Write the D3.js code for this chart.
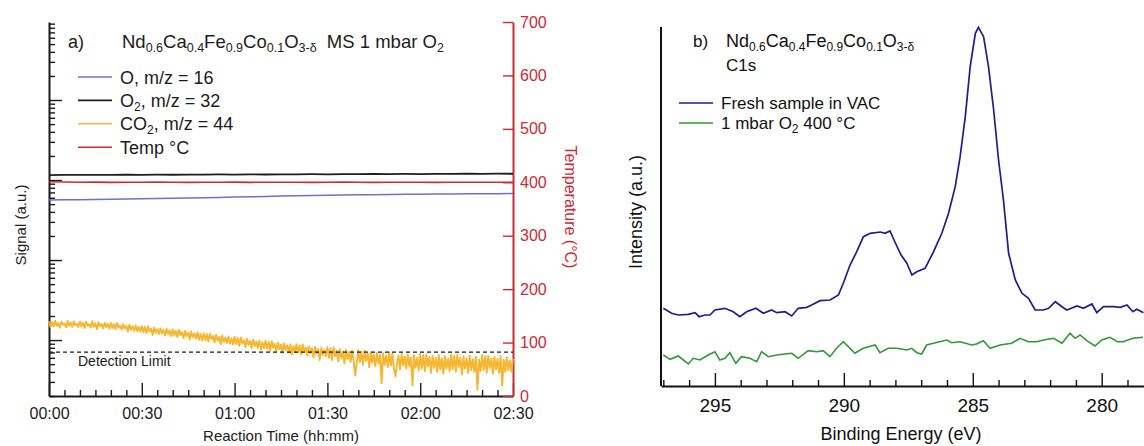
<!DOCTYPE html>
<html>
<head>
<meta charset="utf-8">
<script src="https://cdn.jsdelivr.net/npm/d3@7"></script>
<style>
  html, body { margin: 0; padding: 0; background: #fff; }
  svg { display: block; font-family: "Liberation Sans", Arial, sans-serif; }
</style>
</head>
<body>
<svg id="chart" width="1144" height="446"></svg>
<script>
// ---------- Panel a: mass-spec signals during 1 mbar O2 exposure ----------
// Signals in units of 1e-13 a.u., sampled every 5 min (O, O2, temperature)
const msStepMin = 5;
const oSignal = [562, 565, 568, 571, 575, 578, 582, 587, 592, 597, 602, 607, 612, 618, 624, 630,
                 636, 641, 646, 650, 654, 657, 660, 663, 666, 668, 670, 672, 674, 676, 678];
const o2Signal = [1152, 1160, 1157, 1163, 1158, 1166, 1161, 1168, 1164, 1171, 1167, 1174, 1170, 1177, 1173, 1180,
                  1176, 1183, 1179, 1186, 1182, 1189, 1185, 1192, 1188, 1195, 1191, 1198, 1194, 1201, 1198];
const tempC = [401, 400.4, 400.1, 400.3, 399.9, 400.2, 400, 400.4, 400.1, 399.8, 400.2, 400, 400.3, 399.9, 400.1, 400,
               400.2, 399.9, 400.1, 400.3, 400, 399.8, 400.1, 400, 400.2, 399.9, 400.1, 400, 400.2, 400, 400.1];
// CO2 (m/z = 44), sampled every 0.5 min
const co2StepMin = 0.5;
const co2Signal = [
  17.2, 14.5, 16.8, 14.9, 17.5, 15.1, 16.3, 14.2, 17.0, 15.6, 16.1, 14.4, 17.4, 15.0, 16.6, 14.7, 17.1, 15.3, 16.0, 14.6,
  17.0, 14.8, 16.5, 14.1, 16.9, 15.2, 15.8, 14.3, 17.2, 14.6, 16.2, 13.6, 16.7, 14.9, 15.9, 14.0, 16.4, 14.5, 16.0, 13.9,
  16.3, 14.1, 15.9, 13.7, 16.4, 14.3, 15.2, 13.5, 15.8, 13.9, 15.1, 12.8, 15.5, 13.4, 14.9, 13.1, 15.2, 12.9, 14.6, 12.7,
  15.0, 12.5, 14.6, 12.2, 14.9, 12.8, 13.9, 11.6, 14.4, 12.3, 13.7, 11.9, 14.1, 12.0, 13.5, 11.4, 13.9, 11.8, 13.3, 11.2,
  13.6, 11.3, 13.2, 10.9, 13.5, 11.5, 12.6, 10.6, 13.0, 11.1, 12.4, 10.2, 12.8, 10.8, 12.1, 10.4, 12.5, 10.1, 11.9, 9.9,
  12.2, 10.0, 11.9, 9.6, 12.0, 10.3, 11.3, 9.4, 11.7, 9.8, 11.0, 8.9, 11.4, 9.5, 10.8, 9.2, 11.1, 9.0, 10.6, 8.8,
  11.0, 8.9, 10.6, 8.5, 10.8, 9.1, 10.0, 8.2, 10.4, 8.7, 9.8, 7.9, 10.1, 8.4, 9.6, 8.0, 9.9, 7.6, 9.4, 7.9,
  9.8, 7.8, 9.5, 7.4, 9.7, 8.0, 9.0, 7.2, 9.3, 7.7, 8.8, 6.9, 9.1, 7.5, 8.6, 7.0, 8.9, 6.6, 8.4, 7.1,
  8.9, 7.0, 8.6, 6.6, 8.8, 7.2, 8.1, 6.4, 8.4, 6.9, 7.9, 6.1, 8.2, 6.7, 7.7, 5.6, 8.0, 6.5, 7.6, 6.3,
  8.2, 6.0, 7.9, 5.6, 8.1, 6.3, 7.4, 5.4, 7.7, 5.9, 7.2, 5.1, 7.5, 5.8, 7.1, 5.3, 7.4, 5.5, 3.6, 5.2,
  7.5, 5.3, 7.2, 4.9, 7.4, 5.5, 6.8, 4.6, 7.0, 5.2, 6.6, 4.7, 6.9, 5.1, 6.5, 2.9, 6.8, 4.9, 6.4, 4.6,
  7.0, 4.8, 6.8, 4.5, 3.5, 5.0, 6.4, 4.3, 6.7, 4.8, 6.2, 4.4, 6.6, 4.7, 6.1, 2.7, 6.5, 4.5, 6.0, 4.2,
  6.7, 4.4, 6.5, 4.1, 6.6, 4.7, 6.1, 3.9, 6.4, 4.5, 6.0, 4.0, 6.5, 4.3, 5.9, 3.8, 6.3, 4.4, 5.8, 4.1,
  6.6, 4.3, 6.4, 4.0, 6.5, 4.6, 6.0, 3.7, 6.3, 4.4, 5.9, 3.9, 6.4, 4.2, 5.8, 4.0, 6.2, 2.4, 5.7, 4.1,
  6.5, 4.2, 6.3, 3.9, 6.4, 4.5, 5.9, 3.8, 6.2, 4.3, 5.8, 3.9, 6.3, 2.7, 5.7, 4.0, 6.1, 4.2, 5.6, 4.0,
  5.8
];
const detectionLimit = 7.08;
const timeTickMinutes = [0, 30, 60, 90, 120, 150];
const timeTickLabels = ["00:00", "00:30", "01:00", "01:30", "02:00", "02:30"];
const tempTicks = [0, 100, 200, 300, 400, 500, 600, 700];

// ---------- Panel b: C1s XPS spectra ----------
const beFresh = [297.0, 296.68, 296.42, 296.03, 295.77, 295.61, 295.39, 295.19, 295.0, 294.61, 294.29, 294.03,
  293.77, 293.41, 293.12, 292.80, 292.60, 292.28, 292.02, 291.77, 291.44, 291.25, 290.92, 290.53, 290.21,
  290.02, 289.76, 289.50, 289.24, 288.98, 288.59, 288.40, 288.21, 288.01, 287.78, 287.56, 287.36, 287.17,
  286.85, 286.52, 286.20, 285.94, 285.68, 285.49, 285.29, 285.10, 284.90, 284.78, 284.58, 284.39, 284.19,
  284.00, 283.81, 283.61, 283.35, 283.09, 282.84, 282.58, 282.26, 282.06, 281.80, 281.54, 281.35, 280.96,
  280.71, 280.38, 280.19, 279.93, 279.54, 279.28, 279.02, 278.79, 278.64, 278.38];
const intFresh = [777, 727, 710, 717, 733, 693, 710, 710, 760, 777, 743, 693,
  743, 777, 727, 760, 733, 743, 700, 777, 787, 810, 853, 860, 910,
  1027, 1210, 1343, 1493, 1527, 1540, 1527, 1550, 1435, 1310, 1230, 1110, 1143,
  1177, 1343, 1527, 1727, 1993, 2293, 2693, 3193, 3527, 3587, 3493, 3193, 2760,
  2260, 1860, 1327, 1060, 927, 877, 760, 760, 777, 843, 793, 760, 800,
  777, 820, 733, 793, 793, 787, 810, 743, 767, 733];
const beO2 = [297.0, 296.74, 296.42, 296.03, 295.84, 295.58, 295.26, 295.0, 294.81, 294.61, 294.42, 294.19,
  293.97, 293.64, 293.38, 293.19, 292.93, 292.60, 292.28, 292.02, 291.77, 291.38, 291.05, 290.80, 290.54,
  290.28, 290.02, 289.57, 289.25, 288.79, 288.60, 288.28, 287.95, 287.56, 287.37, 287.17, 286.98, 286.79,
  286.53, 286.01, 285.82, 285.49, 285.04, 284.85, 284.59, 284.33, 283.94, 283.49, 283.17, 282.84, 282.52,
  282.26, 281.87, 281.54, 281.23, 281.03, 280.84, 280.58, 280.26, 280.0, 279.68, 279.39, 279.17, 278.79, 278.40];
const intO2 = [310, 267, 300, 220, 277, 260, 310, 343, 260, 277, 333, 227,
  293, 277, 243, 343, 293, 310, 320, 327, 277, 353, 343, 353, 293,
  377, 443, 327, 377, 410, 333, 377, 377, 360, 377, 333, 320, 410,
  427, 460, 433, 443, 410, 420, 453, 377, 410, 427, 477, 443, 443,
  460, 477, 427, 527, 477, 510, 453, 400, 460, 487, 443, 443, 477, 487];
const beTickValues = [295, 290, 285, 280];

// ---------- Styling ----------
const ink = "#1b1b1b";
const colO = "#6c70d2", colO2 = "#1e1e1e", colCO2 = "#f5b731", colTemp = "#d42a2e";
const colFresh = "#1d1d8e", colO2Spec = "#2f9a35";
const tempAxisCol = "#cc2a33";

const svg = d3.select("#chart");

// ================= Panel a =================
const xA = d3.scaleLinear().domain([0, 150]).range([49, 513]);
const yA = d3.scaleLog().domain([2, 94400]).range([396, 22]);
const yTemp = d3.scaleLinear().domain([0, 700]).range([396, 22]);

// Left (log) axis, unlabeled, ticks inside
const gLeft = svg.append("g").attr("transform", "translate(49,0)")
  .call(d3.axisRight(yA).tickSizeInner(6).tickSizeOuter(0).tickFormat(""));
gLeft.selectAll(".tick line")
  .filter(d => Math.abs(Math.log10(d) - Math.round(Math.log10(d))) < 1e-9)
  .attr("x2", 13);

// Bottom time axis, ticks every 5 min, labels every 30 min
const minorTimes = d3.range(0, 151, 5);
const gBot = svg.append("g").attr("transform", "translate(0,396)")
  .call(d3.axisBottom(xA).tickValues(minorTimes).tickSizeInner(-6).tickSizeOuter(0).tickPadding(12)
    .tickFormat(d => { const k = timeTickMinutes.indexOf(d); return k >= 0 ? timeTickLabels[k] : ""; }));
gBot.selectAll(".tick line").filter(d => timeTickMinutes.includes(d)).attr("y2", -13);
gBot.selectAll("text").attr("font-size", 16).attr("fill", ink);

// Right temperature axis
const gRight = svg.append("g").attr("transform", "translate(513,0)")
  .call(d3.axisRight(yTemp).tickValues(tempTicks).tickSizeInner(-10).tickSizeOuter(0).tickPadding(7));
gRight.selectAll("text").attr("font-size", 16).attr("fill", tempAxisCol);
gRight.selectAll("line, path").attr("stroke", tempAxisCol);

[gLeft, gBot, gRight].forEach(g => {
  g.attr("font-family", null);
  g.select(".domain").attr("stroke-width", 2);
  g.selectAll(".tick line").attr("stroke-width", 1.4);
});
gLeft.selectAll("line, path").attr("stroke", ink);
gBot.selectAll("line, path").attr("stroke", ink);

// Series
const lineMs = d3.line().x((d, i) => xA(i * msStepMin)).y(d => yA(d));
const lineTemp = d3.line().x((d, i) => xA(i * msStepMin)).y(d => yTemp(d));
const lineCO2 = d3.line().x((d, i) => xA(i * co2StepMin)).y(d => yA(d));

svg.append("path").datum(o2Signal).attr("d", lineMs).attr("fill", "none").attr("stroke", colO2).attr("stroke-width", 1.8);
svg.append("path").datum(tempC).attr("d", lineTemp).attr("fill", "none").attr("stroke", colTemp).attr("stroke-width", 1.6);
svg.append("path").datum(oSignal).attr("d", lineMs).attr("fill", "none").attr("stroke", colO).attr("stroke-width", 1.5);
svg.append("path").datum(co2Signal).attr("d", lineCO2).attr("fill", "none").attr("stroke", colCO2)
  .attr("stroke-width", 1.9).attr("stroke-linejoin", "round");

// Detection limit
svg.append("line")
  .attr("x1", xA(0)).attr("x2", xA(150))
  .attr("y1", yA(detectionLimit)).attr("y2", yA(detectionLimit))
  .attr("stroke", ink).attr("stroke-width", 1.3).attr("stroke-dasharray", "4,3");
svg.append("text").attr("x", 78).attr("y", 366).attr("font-size", 14).attr("fill", ink).text("Detection Limit");

// Text with chemical subscripts: each tspan sets its own vertical offset
function richText(sel, parts, subSize) {
  let cur = 0;
  parts.forEach(p => {
    if (p.sub) {
      sel.append("tspan").attr("font-size", subSize).attr("dy", 4 - cur).text(p.sub);
      cur = 4;
    } else {
      sel.append("tspan").attr("dy", 0 - cur).text(p.t);
      cur = 0;
    }
  });
}
const formula = [{t: "Nd"}, {sub: "0.6"}, {t: "Ca"}, {sub: "0.4"}, {t: "Fe"}, {sub: "0.9"}, {t: "Co"}, {sub: "0.1"}, {t: "O"}, {sub: "3-δ"}];

// Panel a title
svg.append("text").attr("x", 68).attr("y", 48).attr("font-size", 18).attr("fill", ink).text("a)");
const titleA = svg.append("text").attr("x", 122).attr("y", 48).attr("font-size", 18.5).attr("fill", ink);
richText(titleA, formula.concat([{t: "\u00a0\u00a0MS 1 mbar O"}, {sub: "2"}]), 12.5);

// Panel a legend
const legA = [
  {parts: [{t: "O, m/z = 16"}], col: colO},
  {parts: [{t: "O"}, {sub: "2"}, {t: ", m/z = 32"}], col: colO2},
  {parts: [{t: "CO"}, {sub: "2"}, {t: ", m/z = 44"}], col: colCO2},
  {parts: [{t: "Temp °C"}], col: colTemp}
];
legA.forEach((e, i) => {
  const y = 77 + i * 23.4;
  svg.append("line").attr("x1", 78).attr("x2", 112).attr("y1", y).attr("y2", y).attr("stroke", e.col).attr("stroke-width", 1.6);
  const t = svg.append("text").attr("x", 120).attr("y", y + 6.5).attr("font-size", 18).attr("fill", ink);
  richText(t, e.parts, 12);
});

// Panel a axis titles
svg.append("text").attr("transform", "translate(20,225) rotate(-90)").attr("text-anchor", "middle")
  .attr("dominant-baseline", "central").attr("font-size", 15).attr("fill", ink).text("Signal (a.u.)");
svg.append("text").attr("x", 281).attr("y", 441).attr("text-anchor", "middle")
  .attr("font-size", 15).attr("fill", ink).text("Reaction Time (hh:mm)");
svg.append("text").attr("transform", "translate(570,207) rotate(90)").attr("text-anchor", "middle")
  .attr("dominant-baseline", "central").attr("font-size", 16).attr("fill", tempAxisCol).text("Temperature (°C)");

// ================= Panel b =================
const xB = d3.scaleLinear().domain([297.09, 278.36]).range([661, 1144]);
const yB = d3.scaleLinear().domain([0, 3590]).range([386, 27]);

const gBb = svg.append("g").attr("transform", "translate(0,386)")
  .call(d3.axisBottom(xB).tickValues(d3.range(279, 298, 1)).tickSizeInner(-6).tickSizeOuter(0).tickPadding(13)
    .tickFormat(d => beTickValues.includes(d) ? d : ""));
gBb.selectAll(".tick line").filter(d => beTickValues.includes(d)).attr("y2", -13);
gBb.attr("font-family", null);
gBb.selectAll("text").attr("font-size", 19).attr("fill", "#111");
gBb.selectAll("line, path").attr("stroke", "#111");
gBb.select(".domain").attr("stroke-width", 2);
gBb.selectAll(".tick line").attr("stroke-width", 1.4);

// Left axis line (no ticks)
svg.append("line").attr("x1", 661).attr("x2", 661).attr("y1", yB(3590)).attr("y2", yB(0))
  .attr("stroke", "#111").attr("stroke-width", 2);

const lineB = (be) => d3.line().x((d, i) => xB(be[i])).y(d => yB(d));
svg.append("path").datum(intO2).attr("d", lineB(beO2)).attr("fill", "none").attr("stroke", colO2Spec).attr("stroke-width", 1.6);
svg.append("path").datum(intFresh).attr("d", lineB(beFresh)).attr("fill", "none").attr("stroke", colFresh).attr("stroke-width", 1.7);

// Panel b title
svg.append("text").attr("x", 693).attr("y", 47).attr("font-size", 17).attr("fill", "#111").text("b)");
const titleB = svg.append("text").attr("x", 726).attr("y", 47).attr("font-size", 18).attr("fill", "#111");
richText(titleB, formula, 12);
svg.append("text").attr("x", 726).attr("y", 71).attr("font-size", 17).attr("fill", "#111").text("C1s");

// Panel b legend
const legB = [
  {parts: [{t: "Fresh sample in VAC"}], col: colFresh},
  {parts: [{t: "1 mbar O"}, {sub: "2"}, {t: " 400 °C"}], col: colO2Spec}
];
legB.forEach((e, i) => {
  const y = 103 + i * 20;
  svg.append("line").attr("x1", 679).attr("x2", 713).attr("y1", y).attr("y2", y).attr("stroke", e.col).attr("stroke-width", 1.6);
  const t = svg.append("text").attr("x", 721).attr("y", y + 6).attr("font-size", 17).attr("fill", "#111");
  richText(t, e.parts, 12);
});

// Panel b axis titles
svg.append("text").attr("transform", "translate(636,212) rotate(-90)").attr("text-anchor", "middle")
  .attr("dominant-baseline", "central").attr("font-size", 18).attr("fill", "#111").text("Intensity (a.u.)");
svg.append("text").attr("x", 901).attr("y", 440).attr("text-anchor", "middle")
  .attr("font-size", 18).attr("fill", "#111").text("Binding Energy (eV)");
</script>
</body>
</html>
